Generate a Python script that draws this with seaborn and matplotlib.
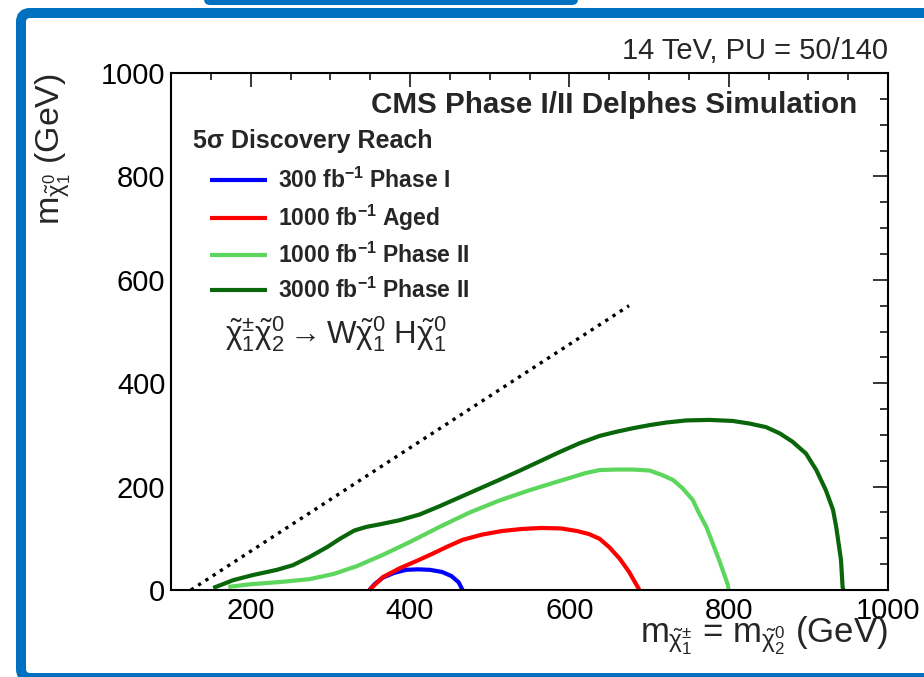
import numpy as np
import pandas as pd
import matplotlib
matplotlib.use("Agg")
import matplotlib.pyplot as plt
import seaborn as sns
from matplotlib.patches import FancyBboxPatch
from matplotlib.ticker import MultipleLocator
from matplotlib.lines import Line2D

# ---- 5 sigma discovery contours (m_chargino = m_neutralino2 vs m_LSP, GeV) ----
blue_x = [349, 356, 366, 380, 395, 410, 425, 440, 452, 461, 466]
blue_y = [0, 12, 24, 33, 39, 40, 39, 35, 27, 15, 0]

red_x = [349, 366, 387, 408, 428, 447, 466, 490, 515, 540, 565, 590, 610, 625, 638, 650, 663, 675, 688]
red_y = [0, 25, 42, 56, 70, 84, 97, 107, 114, 118, 120, 119, 114, 108, 99, 83, 61, 35, 0]

lgreen_x = [172, 199, 241, 274, 304, 333, 366, 400, 437, 475, 512, 550, 588, 620, 638, 659, 680, 701,
            717, 730, 742, 755, 763, 772, 780, 788, 799, 800]
lgreen_y = [6, 11, 16, 21, 31, 46, 68, 93, 122, 150, 173, 193, 211, 226, 232, 233, 233, 231,
            222, 213, 197, 174, 148, 122, 90, 58, 10, 0]

dgreen_x = [153, 178, 203, 233, 253, 274, 296, 312, 330, 345, 362, 387, 412, 437, 462, 487, 512,
            538, 563, 588, 613, 638, 659, 680, 701, 722, 747, 776, 805, 826, 847, 864, 880, 897,
            910, 922, 931, 935, 938, 941, 943, 944]
dgreen_y = [4, 19, 29, 39, 48, 64, 83, 99, 115, 122, 127, 135, 146, 162, 179, 196, 213,
            231, 249, 267, 284, 298, 306, 313, 319, 324, 328, 329, 327, 322, 315, 303, 287, 264,
            232, 193, 155, 122, 90, 58, 6, 0]

# kinematic limit m_chi1 = m_chi2 - m_h
diag_x = [125, 675]
diag_y = [0, 550]

series_labels = [r"300 fb$^{\mathbf{-1}}$ Phase I",
                 r"1000 fb$^{\mathbf{-1}}$ Aged",
                 r"1000 fb$^{\mathbf{-1}}$ Phase II",
                 r"3000 fb$^{\mathbf{-1}}$ Phase II"]
series_colors = ["#0000ff", "#ff0000", "#5cd65c", "#0a660a"]

x_ticks = [200, 400, 600, 800, 1000]
y_ticks = [0, 200, 400, 600, 800, 1000]

sns.set_theme(style="white")
plt.rcParams["font.family"] = ["Liberation Sans", "DejaVu Sans"]
plt.rcParams["mathtext.fontset"] = "custom"
plt.rcParams["mathtext.rm"] = "Liberation Sans"
plt.rcParams["mathtext.it"] = "Liberation Sans"
plt.rcParams["mathtext.sf"] = "Liberation Sans"
plt.rcParams["mathtext.bf"] = "Liberation Sans:bold"

W, H = 924, 677
fig = plt.figure(figsize=(W / 100, H / 100), dpi=100)
fig.patch.set_facecolor("white")


def fx(px):
    return px / W


def fy(py):
    return 1 - py / H


# slide frame
blue = "#0070c0"
frame = FancyBboxPatch((0.21, -0.01), 9.3, (678 - 13) / 100,
                       boxstyle="round,pad=0,rounding_size=0.09",
                       transform=fig.dpi_scale_trans, facecolor="none",
                       edgecolor=blue, linewidth=7.2, zorder=0)
fig.add_artist(frame)
tab = FancyBboxPatch((2.04, 6.72), 3.74, 0.2,
                     boxstyle="round,pad=0,rounding_size=0.06",
                     transform=fig.dpi_scale_trans, facecolor=blue,
                     edgecolor="none", zorder=0)
fig.add_artist(tab)

ax = fig.add_axes([fx(171), fy(590), 717 / W, 517 / H])
ax.set_facecolor("none")

curves = [(blue_x, blue_y), (red_x, red_y), (lgreen_x, lgreen_y), (dgreen_x, dgreen_y)]
for (cx, cy), col in zip(curves, series_colors):
    df = pd.DataFrame({"x": cx, "y": cy})
    sns.lineplot(data=df, x="x", y="y", sort=False, color=col, lw=3.0, ax=ax,
                 solid_capstyle="butt", solid_joinstyle="round", clip_on=False)

ddf = pd.DataFrame({"x": diag_x, "y": diag_y})
sns.lineplot(data=ddf, x="x", y="y", sort=False, color="black", lw=2.4,
             linestyle=(0, (1, 1.6)), ax=ax)

ax.set_xlim(100, 1000)
ax.set_ylim(0, 1000)
ax.set_xticks(x_ticks)
ax.set_yticks(y_ticks)
ax.xaxis.set_minor_locator(MultipleLocator(50))
ax.yaxis.set_minor_locator(MultipleLocator(50))
ax.tick_params(which="both", direction="in", top=True, right=True, colors="black",
               width=1.1, labelsize=21)
ax.tick_params(axis="x", which="major", length=10, pad=5)
ax.tick_params(axis="x", which="minor", length=5)
ax.tick_params(axis="y", which="major", length=11, pad=4)
ax.tick_params(axis="y", which="minor", length=5.5)
for s in ax.spines.values():
    s.set_linewidth(1.5)
    s.set_color("black")

ax.set_xlabel(r"$m_{\tilde{\chi}^{\pm}_{1}}$ = $m_{\tilde{\chi}^{0}_{2}}$ (GeV)", fontsize=25,
              loc="right")
ax.xaxis.set_label_coords(1.0, -0.048)
ax.set_ylabel(r"$m_{\tilde{\chi}^{0}_{1}}$ (GeV)", fontsize=24.5, loc="top")
ax.yaxis.label.set_va("top")
ax.yaxis.set_label_coords(-0.192, 1.0)

fig.text(fx(888), fy(59), "14 TeV, PU = 50/140", fontsize=21, ha="right", va="baseline")
fig.text(fx(857), fy(113), "CMS Phase I/II Delphes Simulation", fontsize=21.3,
         fontweight="bold", ha="right", va="baseline")
fig.text(fx(193), fy(148), "5σ Discovery Reach", fontsize=18, fontweight="bold",
         ha="left", va="baseline")
fig.text(fx(225), fy(343),
         r"$\tilde{\chi}^{\pm}_{1}\tilde{\chi}^{0}_{2}\rightarrow W\tilde{\chi}^{0}_{1}\ H\tilde{\chi}^{0}_{1}$",
         fontsize=22.5, ha="left", va="baseline")

handles = [Line2D([], [], color=c, lw=3.0, solid_capstyle="butt") for c in series_colors]
ax.legend(handles, series_labels, loc="upper left",
          bbox_to_anchor=(fx(210), fy(167.5)), bbox_transform=fig.transFigure,
          frameon=False, borderpad=0, borderaxespad=0, handlelength=2.49,
          handletextpad=0.48, labelspacing=0.43,
          prop={"weight": "bold", "size": 16.5})

fig.savefig("out.png", dpi=100, facecolor="white")
